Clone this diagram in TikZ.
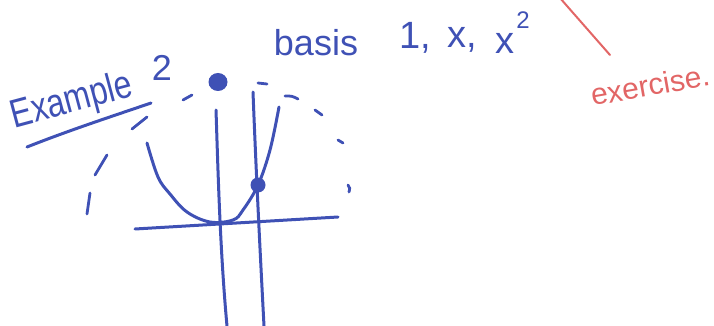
\documentclass[tikz,border=0pt]{standalone}
\usepackage{fontspec}
\setmainfont{Liberation Sans}
\definecolor{ink}{RGB}{63,81,181}
\definecolor{redink}{RGB}{226,102,102}
\begin{document}
\begin{tikzpicture}[x=1pt,y=-1pt,
  pen/.style={draw=ink,line width=3pt,line cap=round,line join=round},
  dashpen/.style={draw=ink,line width=2.8pt,line cap=round},
  handtext/.style={text=ink,inner sep=0pt,anchor=center},
  redtext/.style={text=redink,inner sep=0pt,anchor=center}]
\useasboundingbox (0,0) rectangle (714,326);
% title
\node[handtext,rotate=15,xscale=0.8,font=\fontsize{40}{40}\selectfont] (ex) at (72,102) {Example};
\node[handtext,font=\fontsize{36}{36}\selectfont] (two) at (162,68) {2};
\draw[pen] (27,147) .. controls (70,130) and (110,117) .. (151,103);
% basis text
\node[handtext,font=\fontsize{36}{36}\selectfont] (basis) at (316,43) {basis};
\node[handtext,font=\fontsize{38}{38}\selectfont] (b1) at (415,38) {1,};
\node[handtext,font=\fontsize{38}{38}\selectfont] (b2) at (462,40) {x,};
\node[handtext,font=\fontsize{38}{38}\selectfont] (b3) at (505,43) {x};
\node[handtext,font=\fontsize{24}{24}\selectfont] (b4) at (523,20) {2};
% red
\draw[draw=redink,line width=2pt,line cap=round] (560,-2) -- (610,55);
\node[redtext,rotate=10,font=\fontsize{30}{30}\selectfont] (exer) at (650,85) {exercise.};
% dashed circle
\draw[dashpen] (90,193) -- (87,214);
\draw[dashpen] (107,155) -- (95,175);
\draw[dashpen] (147,117) -- (132,129);
\draw[dashpen] (192,95) -- (183,100);
\draw[dashpen] (258,83) -- (267,84);
\draw[dashpen] (285,96) .. controls (292,96) .. (298,99);
\draw[dashpen] (315,110) -- (322,115);
\draw[dashpen] (338,140) -- (343,143);
\draw[dashpen] (348,185) .. controls (350,188) .. (349,192);
% dots
\fill[ink] (218,82) ellipse [x radius=9.5pt, y radius=9pt];
\fill[ink] (258,185) circle [radius=7.5pt];
% axis
\draw[pen] (135,229) -- (338,217);
% vertical lines
\draw[pen] (216,110) .. controls (218,170) and (220,250) .. (227,326);
\draw[pen] (253,92) .. controls (256,170) and (260,250) .. (264,326);
% parabola
\draw[pen] plot[smooth,tension=0.6] coordinates {(147,143) (158,177) (170,194) (187,212) (210,222) (233,220) (243,210) (258,185) (270,150) (279,107)};
\end{tikzpicture}
\end{document}
